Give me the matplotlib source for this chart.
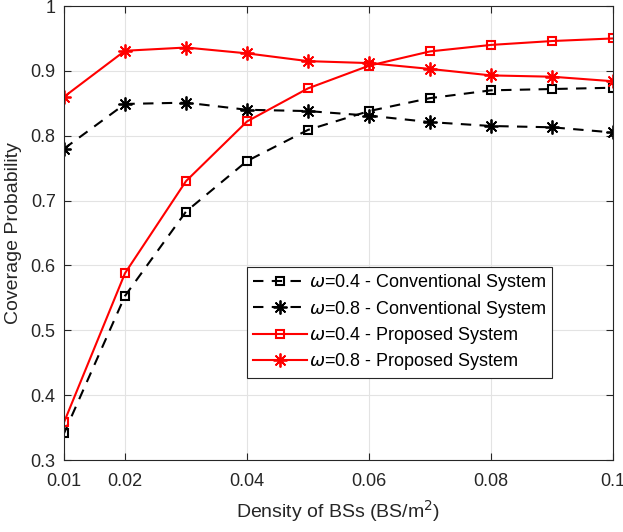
import numpy as np
import matplotlib
matplotlib.use('Agg')
import matplotlib.pyplot as plt
from matplotlib.ticker import FormatStrFormatter

plt.rcParams['font.family'] = ['Liberation Sans', 'DejaVu Sans']
plt.rcParams['mathtext.fontset'] = 'dejavusans'

# density of BSs
density = [0.01, 0.02, 0.03, 0.04, 0.05, 0.06, 0.07, 0.08, 0.09, 0.1]

conv_04 = [0.341, 0.553, 0.683, 0.761, 0.809, 0.838, 0.858, 0.870, 0.872, 0.874]
conv_08 = [0.780, 0.849, 0.851, 0.840, 0.838, 0.831, 0.821, 0.815, 0.813, 0.805]
prop_04 = [0.358, 0.588, 0.730, 0.822, 0.873, 0.908, 0.930, 0.940, 0.946, 0.950]
prop_08 = [0.860, 0.931, 0.936, 0.927, 0.915, 0.912, 0.903, 0.893, 0.891, 0.884]

xticks = [0.01, 0.02, 0.04, 0.06, 0.08, 0.1]
yticks = [0.3, 0.4, 0.5, 0.6, 0.7, 0.8, 0.9, 1.0]

fig = plt.figure(figsize=(6.23, 5.32), dpi=100)
ax = fig.add_axes([0.1027, 0.1353, 0.8813, 0.8534])

star = (8, 2, 0)
ax.plot(density, conv_04, 'k--', marker='s', mfc='none', ms=6, mew=1.5, lw=1.5,
        dashes=(5, 4), label=r'$\omega$=0.4 - Conventional System')
ax.plot(density, conv_08, 'k--', marker=star, ms=10, mew=1.3, lw=1.5,
        dashes=(5, 4), label=r'$\omega$=0.8 - Conventional System')
ax.plot(density, prop_04, 'r-', marker='s', mfc='none', ms=6, mew=1.5, lw=1.5,
        label=r'$\omega$=0.4 - Proposed System')
ax.plot(density, prop_08, 'r-', marker=star, ms=10, mew=1.3, lw=1.5,
        label=r'$\omega$=0.8 - Proposed System')

ax.set_xlim(0.01, 0.1)
ax.set_ylim(0.3, 1.0)
ax.set_xticks(xticks)
ax.set_yticks(yticks)
ax.xaxis.set_major_formatter(FormatStrFormatter('%g'))
ax.yaxis.set_major_formatter(FormatStrFormatter('%g'))
ax.tick_params(direction='in', top=True, right=True, labelsize=13, colors='#262626', length=5)
ax.tick_params(axis='x', pad=9)
ax.tick_params(axis='y', pad=6)
ax.grid(True, color='#e3e3e3', lw=0.8)
ax.set_axisbelow(True)
for s in ax.spines.values():
    s.set_color('#262626')

ax.set_xlabel('Density of BSs (BS/m$^2$)', fontsize=14, color='#262626', labelpad=6)
ax.set_ylabel('Coverage Probability', fontsize=14, color='#262626', labelpad=6)

leg = ax.legend(loc='lower right', bbox_to_anchor=(0.888, 0.181), fontsize=13,
                fancybox=False, framealpha=1, edgecolor='#262626',
                borderpad=0.3, labelspacing=0.3, handlelength=3, handletextpad=0.1,
                borderaxespad=0)
leg.get_frame().set_linewidth(0.8)

plt.savefig('out.png', dpi=100)
plt.close()
